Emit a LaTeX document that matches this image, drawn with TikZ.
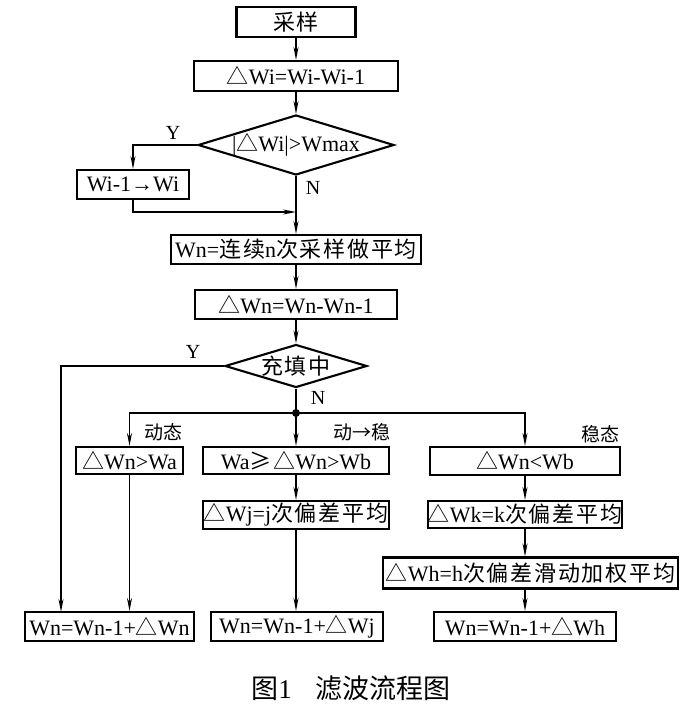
\documentclass[tikz,border=0pt]{standalone}
\usepackage{fontspec}
\setmainfont{Liberation Serif}
\newfontfamily\cjkfont[LetterSpace=8]{Noto Sans CJK SC}
\newfontfamily\cjkplain{Noto Sans CJK SC}
\newcommand{\zh}[1]{{\cjkfont #1}}
\usetikzlibrary{shapes.geometric,arrows.meta}
\begin{document}
\begin{tikzpicture}[x=1pt,y=-1pt]
\tikzset{
  box/.style={draw, line width=2.1pt, inner sep=0pt, font=\fontsize{22}{24}\selectfont},
  dia/.style={draw, diamond, line width=2.1pt, inner sep=0pt},
  dtext/.style={inner sep=0pt, font=\fontsize{22}{24}\selectfont},
  arr/.style={line width=1.6pt, -{Stealth[length=13pt,width=5pt]}},
  ln/.style={line width=1.6pt},
  lab/.style={inner sep=0pt, font=\fontsize{20}{22}\selectfont},
  zlab/.style={inner sep=0pt, font=\fontsize{19}{21}\selectfont\cjkplain},
}
\useasboundingbox (0,0) rectangle (698,708);

% main column
\node[box, minimum width=119pt, minimum height=30pt] (s1) at (296,22) {\zh{采样}};
\node[box, minimum width=204pt, minimum height=30pt] (s2) at (296,76) {\zh{△}Wi=Wi-Wi-1};
\node[dia, minimum width=196pt, minimum height=60pt] (d1) at (296,145) {};
\node[dtext] (d1t) at (d1.center) {|\zh{△}Wi|>Wmax};
\node[box, minimum width=112pt, minimum height=29pt] (w1) at (133,184.5) {Wi-1→Wi};
\node[box, minimum width=250pt, minimum height=29pt] (s3) at (296,249.5) {Wn=\zh{连续}n\zh{次采样做平均}};
\node[box, minimum width=202pt, minimum height=29pt] (s4) at (296,304.5) {\zh{△}Wn=Wn-Wn-1};
\node[dia, minimum width=142pt, minimum height=43pt] (d2) at (296,366) {};
\node[dtext] (d2t) at (d2.center) {\zh{充填中}};
\node[circle, fill, inner sep=0pt, minimum size=8pt] (jn) at (296,413) {};

% branch boxes
\node[box, minimum width=107pt, minimum height=27pt] (c1) at (129.5,460.5) {\zh{△}Wn>Wa};
\node[box, minimum width=186pt, minimum height=27pt] (c2) at (296,460.5) {Wa\zh{≥△}Wn>Wb};
\node[box, minimum width=190pt, minimum height=28pt] (c3) at (525,461) {\zh{△}Wn<Wb};
\node[box, minimum width=186pt, minimum height=28pt] (j2) at (296,515) {\zh{△}Wj=j\zh{次偏差平均}};
\node[box, minimum width=190pt, minimum height=27pt] (k3) at (525,514.5) {\zh{△}Wk=k\zh{次偏差平均}};
\node[box, minimum width=295pt, minimum height=31pt] (h3) at (530.5,573) {\zh{△}Wh=h\zh{次偏差滑动加权平均}};
\node[box, minimum width=169pt, minimum height=29pt] (b1) at (109.5,626.5) {Wn=Wn-1+\zh{△}Wn};
\node[box, minimum width=172pt, minimum height=29pt] (b2) at (297,626.5) {Wn=Wn-1+\zh{△}Wj};
\node[box, minimum width=182pt, minimum height=29pt] (b3) at (525,626.5) {Wn=Wn-1+\zh{△}Wh};

% labels
\node[lab] (y1) at (173,133) {Y};
\node[lab] (n1) at (313,188) {N};
\node[lab] (y2) at (193,352) {Y};
\node[lab] (n2) at (318,398) {N};
\node[zlab] (l1) at (163,432) {动态};
\node[zlab] (l2) at (362,432) {动→稳};
\node[zlab] (l3) at (600,434) {稳态};

% connectors
\coordinate (m1) at (296,212);
\coordinate (ye) at (61,612);
\draw[arr] (s1) -- (s2);
\draw[arr] (s2) -- (d1);
\draw[arr] (d1.west) -| (w1.north);
\draw[arr] (w1.south) |- (m1);
\draw[arr] (d1.south) -- (s3.north);
\draw[arr] (s3) -- (s4);
\draw[arr] (s4) -- (d2);
\draw[arr] (d2.west) -| (ye);
\draw[ln] (d2.south) -- (jn.center);
\draw[arr] (jn.center) -| (c1.north);
\draw[arr] (jn.center) -- (c2.north);
\draw[arr] (jn.center) -| (c3.north);
\draw[arr] (c1.south) -- (c1.south |- b1.north);
\draw[arr] (c2) -- (j2);
\draw[arr] (j2.south) -- (j2.south |- b2.north);
\draw[arr] (c3) -- (k3);
\draw[arr] (k3.south) -- (k3.south |- h3.north);
\draw[arr] (k3.south |- h3.south) -- (b3.north);

% caption
\node[inner sep=0pt, font=\fontsize{27}{29}\selectfont] (cap) at (351,688) {{\cjkplain 图}1\hspace{24pt}{\cjkplain 滤波流程图}};
\end{tikzpicture}
\end{document}
